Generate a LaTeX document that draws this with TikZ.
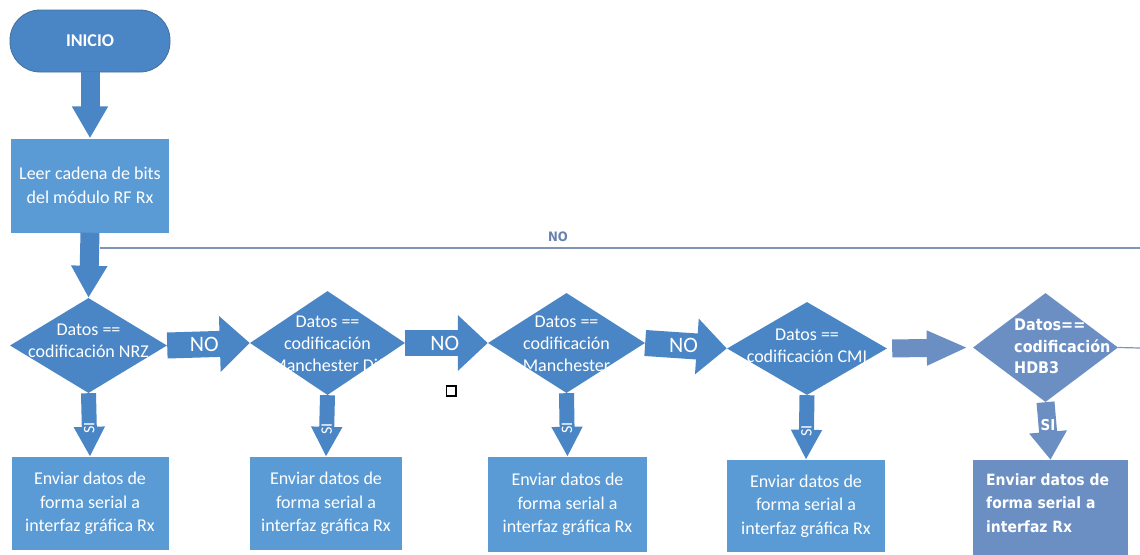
\documentclass[tikz,border=0pt]{standalone}
\usepackage{fontspec}
\setmainfont{Carlito}
\newfontfamily\tah[FakeStretch=0.9]{DejaVu Sans}
\usetikzlibrary{shapes.geometric,arrows.meta}
\definecolor{bdark}{HTML}{4A86C5}
\definecolor{bbox}{HTML}{5B9BD5}
\definecolor{bgrey}{HTML}{6B8FC2}
\definecolor{lgrey}{HTML}{7F94B7}
\definecolor{tgrey}{HTML}{6782AE}
\definecolor{bborder}{HTML}{41719C}
\begin{document}
\begin{tikzpicture}[x=1pt,y=-1pt,
  term/.style={rectangle, rounded corners=30pt, fill=bdark, draw=bborder, line width=0.8pt,
    minimum width=160pt, minimum height=62pt, inner sep=0pt, text=white,
    font=\fontsize{18}{22}\selectfont\bfseries},
  procbox/.style={rectangle, fill=bbox, inner sep=0pt, text=white, align=center,
    font=\fontsize{18}{23.5}\selectfont},
  dia/.style={diamond, fill=bdark, inner sep=0pt},
  dtext/.style={text=white, align=center, inner sep=0pt, font=\fontsize{18}{22}\selectfont},
  vArr/.style={draw=bdark, line width=19pt, -{Triangle[length=32pt,width=34pt]}},
  siArr/.style={draw=bdark, line width=15pt, -{Triangle[length=30pt,width=29pt]}},
  noArr/.style={draw=bdark, line width=26pt, -{Triangle[length=30pt,width=54pt]}},
  noLbl/.style={text=white, font=\fontsize{22}{22}\selectfont, inner sep=0pt},
  siLbl/.style={text=white, font=\fontsize{16}{16}\selectfont, inner sep=0pt, rotate=90},
  loopline/.style={draw=lgrey, line width=1.5pt}
]
\useasboundingbox[fill=white] (0,0) rectangle (1140,554);

% nodes
\node[term] (ini) at (90,41) {INICIO};
\node[procbox, minimum width=158pt, minimum height=94pt] (b0) at (90,185.5) {Leer cadena de bits\\del módulo RF Rx};

\node[dia, minimum width=157pt, minimum height=95pt] (d1) at (88.5,345.5) {};
\node[dtext] (t1) at (88.5,341) {Datos ==\\codificación NRZ};
\node[dia, minimum width=155pt, minimum height=104pt] (d2) at (327.5,343) {};
\node[dtext] (t2) at (327.5,343.5) {Datos ==\\codificación\\Manchester Dif};
\node[dia, minimum width=157pt, minimum height=100pt] (d3) at (566.5,343) {};
\node[dtext] (t3) at (566.5,344) {Datos ==\\codificación\\Manchester};
\node[dia, minimum width=160pt, minimum height=93pt] (d4) at (807,348.5) {};
\node[dtext] (t4) at (807,346) {Datos ==\\codificación CMI};
\node[dia, fill=bgrey, minimum width=145pt, minimum height=109pt] (d5) at (1045.5,347.5) {};
\node[text=white, align=left, anchor=west, inner sep=0pt, font=\tah\bfseries\fontsize{16}{21.5}\selectfont] (t5) at (1014,346.5) {Datos==\\codificación\\HDB3};

\node[procbox, minimum width=157pt, minimum height=93pt] (b1) at (90,503.5) {Enviar datos de\\forma serial a\\interfaz gráfica Rx};
\node[procbox, minimum width=152pt, minimum height=93pt] (b2) at (326,503.5) {Enviar datos de\\forma serial a\\interfaz gráfica Rx};
\node[procbox, minimum width=159pt, minimum height=95pt] (b3) at (567.5,504.5) {Enviar datos de\\forma serial a\\interfaz gráfica Rx};
\node[procbox, minimum width=158pt, minimum height=92pt] (b4) at (806,506) {Enviar datos de\\forma serial a\\interfaz gráfica Rx};
\node[procbox, fill=bgrey, minimum width=155pt, minimum height=96pt] (b5) at (1050.5,508) {};
\node[text=white, align=left, anchor=west, inner sep=0pt, font=\tah\bfseries\fontsize{15.5}{23.5}\selectfont] (t6) at (986,503) {Enviar datos de\\forma serial a\\interfaz Rx};

% vertical arrows
\draw[vArr] (ini.south) -- (b0.north);
\draw[vArr] (b0.south) -- (d1.north);

% NO arrows
\draw[noArr] (d1.east) -- node[noLbl, pos=0.45] (no1) {NO} (d2.west);
\draw[noArr] (d2.east) -- node[noLbl, pos=0.48] (no2) {NO} (d3.west);
\draw[noArr] (d3.east) -- node[noLbl, pos=0.47] (no3) {NO} (d4.west);
\draw[draw=bgrey, line width=18pt, -{Triangle[length=41pt,width=32pt]}, shorten <=5pt, shorten >=5pt] (d4.east) -- (d5.west);

% SI arrows
\draw[siArr] (d1.south) -- node[siLbl, pos=0.55] (s1) {SI} (b1.north);
\draw[siArr] (d2.south) -- node[siLbl, pos=0.55] (s2) {SI} (b2.north);
\draw[siArr] (d3.south) -- node[siLbl, pos=0.55] (s3) {SI} (b3.north);
\draw[siArr] (d4.south) -- node[siLbl, pos=0.55] (s4) {SI} (b4.north);
\draw[draw=bgrey, line width=18pt, -{Triangle[length=28pt,width=36pt]}] (d5.south) -- (b5.north);
\node[text=white, inner sep=0pt, font=\tah\bfseries\fontsize{15}{15}\selectfont] (s5) at (1048,425) {SI};

% loop line (NO)
\coordinate (lpL) at (100,248);
\coordinate (lpR) at (1140,248);
\draw[loopline] (lpL) -- (lpR);
\node[text=tgrey, inner sep=0pt, font=\tah\bfseries\fontsize{13}{13}\selectfont] (nolp) at (558,237) {NO};
\coordinate (d5out) at (1140,348);
\draw[draw=lgrey, line width=1.2pt] (d5.east) -- (d5out);

% small square
\draw[line width=1.6pt] (446.5,386) rectangle (456,396);
\end{tikzpicture}
\end{document}
